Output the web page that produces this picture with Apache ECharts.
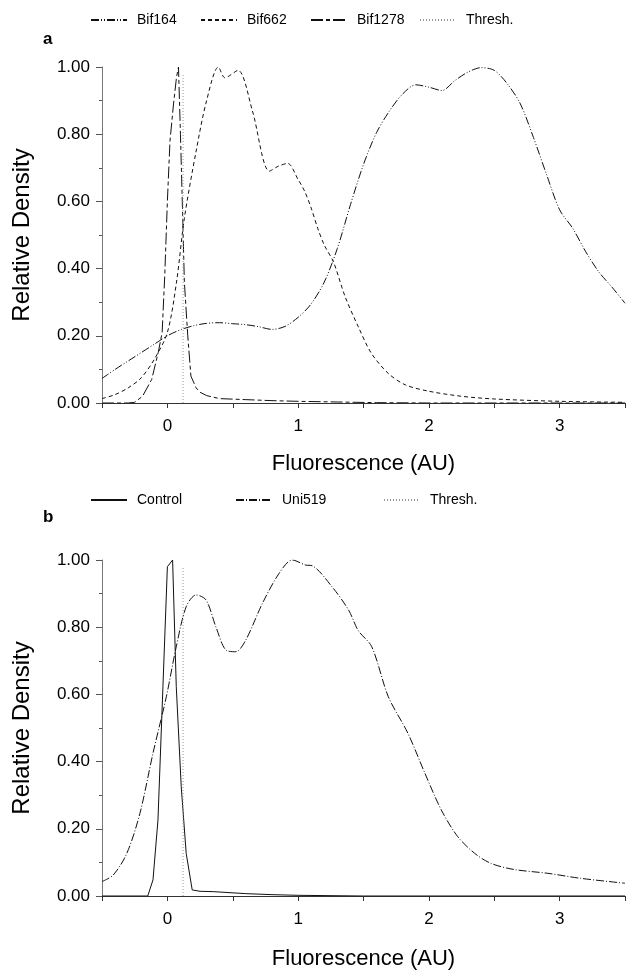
<!DOCTYPE html>
<html>
<head>
<meta charset="utf-8">
<script src="https://cdn.jsdelivr.net/npm/echarts@6/dist/echarts.min.js"></script>
<style>
  html, body { margin: 0; padding: 0; background: #fff; }
  #chart { width: 628px; height: 974px; }
</style>
</head>
<body>
<div id="chart"></div>
<script>
// panel a: Bif probes
var bif164X = [-0.5, -0.4, -0.3, -0.2, -0.1, 0, 0.1, 0.2, 0.3, 0.4, 0.5, 0.6, 0.7, 0.8, 0.9, 1.0, 1.1, 1.2, 1.3, 1.4, 1.5,
    1.6, 1.7, 1.8, 1.9, 2.0, 2.1, 2.2, 2.3, 2.4, 2.5, 2.6, 2.7, 2.8, 2.9, 3.0, 3.1, 3.2, 3.3, 3.4, 3.5];
var bif164Y = [0.073, 0.10, 0.125, 0.15, 0.175, 0.20, 0.218, 0.23, 0.237, 0.239, 0.236, 0.233, 0.227, 0.219, 0.228, 0.255, 0.295,
    0.36, 0.46, 0.59, 0.71, 0.805, 0.87, 0.92, 0.947, 0.94, 0.93, 0.96, 0.985, 0.998, 0.99, 0.95, 0.89, 0.79, 0.68, 0.575,
    0.52, 0.45, 0.39, 0.345, 0.297];

var bif662X = [-0.5, -0.4, -0.3, -0.2, -0.1, 0, 0.07, 0.13, 0.22, 0.3, 0.39, 0.44, 0.54, 0.65, 0.78, 0.85, 0.92, 1.0, 1.05,
    1.1, 1.15, 1.2, 1.27, 1.36, 1.46, 1.56, 1.69, 1.82, 2.0, 2.25, 2.5, 3.0, 3.5];
var bif662Y = [0.013, 0.025, 0.045, 0.075, 0.13, 0.21, 0.36, 0.55, 0.75, 0.90, 1.0, 0.968, 0.99, 0.87, 0.69, 0.705, 0.713,
    0.665, 0.63, 0.58, 0.52, 0.47, 0.42, 0.316, 0.227, 0.148, 0.088, 0.054, 0.035, 0.02, 0.012, 0.005, 0.002];

var bif1278X = [-0.5, -0.3, -0.25, -0.19, -0.12, -0.07, -0.04, -0.02, 0.0, 0.02, 0.047, 0.07, 0.085, 0.1, 0.114, 0.13, 0.156,
    0.18, 0.22, 0.25, 0.3, 0.4, 0.6, 0.8, 1.0, 1.3, 1.6, 2.0, 3.5];
var bif1278Y = [0, 0, 0.002, 0.02, 0.07, 0.15, 0.21, 0.38, 0.6, 0.78, 0.89, 0.97, 1.0, 0.8, 0.6, 0.36, 0.2,
    0.08, 0.045, 0.032, 0.022, 0.013, 0.01, 0.007, 0.005, 0.003, 0.001, 0, 0];

// panel b: control and Uni519
var controlX = [-0.5, -0.15, -0.11, -0.072, -0.034, 0.0, 0.04, 0.068, 0.106, 0.144, 0.19, 0.25, 0.35, 0.6, 0.8, 1.0, 1.5, 3.5];
var controlY = [0, 0, 0.048, 0.226, 0.623, 0.98, 1.0, 0.623, 0.325, 0.127, 0.018, 0.014, 0.013, 0.007, 0.004, 0.002, 0, 0];

var uni519X = [-0.5, -0.414, -0.31, -0.21, -0.11, -0.008, 0.068, 0.144, 0.22, 0.296, 0.372, 0.448, 0.524, 0.6, 0.727, 0.854,
    0.955, 1.057, 1.107, 1.26, 1.386, 1.46, 1.563, 1.69, 1.84, 1.97, 2.095, 2.22, 2.35, 2.475, 2.65, 2.91, 3.16, 3.5];
var uni519Y = [0.043, 0.0625, 0.127, 0.246, 0.425, 0.593, 0.742, 0.861, 0.896, 0.881, 0.80, 0.732, 0.727, 0.762, 0.871, 0.96,
    1.0, 0.985, 0.983, 0.92, 0.851, 0.79, 0.742, 0.593, 0.484, 0.365, 0.256, 0.177, 0.127, 0.097, 0.079, 0.0675, 0.0526, 0.038];

// threshold lines
var threshX = [0.12, 0.12];
var threshY = [0, 0.98];

var xTicks = ['0', '1', '2', '3'];
var yTicks = ['0.00', '0.20', '0.40', '0.60', '0.80', '1.00'];

var FONT = '"Liberation Sans", Arial, sans-serif';

function pairs(aX, aY) {
    var aoOut = [];
    for (var i = 0; i < aX.length; i++) {
        aoOut.push([aX[i], aY[i]]);
    }
    return aoOut;
}

function xAxisCfg(nGrid, nGap) {
    return {
        type: 'value',
        gridIndex: nGrid,
        min: -0.5,
        max: 3.5,
        interval: 0.5,
        name: 'Fluorescence (AU)',
        nameLocation: 'middle',
        nameGap: nGap,
        nameTextStyle: { fontFamily: FONT, fontSize: 22, color: '#000' },
        axisLine: { onZero: false, lineStyle: { color: '#333', width: 1 } },
        axisTick: { length: 5, lineStyle: { color: '#333' } },
        axisLabel: {
            fontFamily: FONT, fontSize: 17, color: '#000', margin: 15,
            formatter: function (v) {
                var c = String(Math.round(v));
                return (Math.abs(v - Math.round(v)) < 1e-6 && xTicks.indexOf(c) >= 0) ? c : '';
            }
        },
        splitLine: { show: false }
    };
}

function yAxisCfg(nGrid) {
    return {
        type: 'value',
        gridIndex: nGrid,
        min: 0,
        max: 1,
        interval: 0.2,
        name: 'Relative Density',
        nameLocation: 'middle',
        nameGap: 68,
        nameTextStyle: { fontFamily: FONT, fontSize: 24, color: '#000' },
        axisLine: { show: true, onZero: false, lineStyle: { color: '#777', width: 1 } },
        axisTick: { show: true, length: 6, lineStyle: { color: '#555' } },
        minorTick: { show: true, splitNumber: 2, length: 3, lineStyle: { color: '#555' } },
        axisLabel: {
            fontFamily: FONT, fontSize: 17, color: '#000', margin: 12,
            formatter: function (v) { return yTicks[Math.round(v * 5)]; }
        },
        splitLine: { show: false }
    };
}

function lineSer(cName, nAxis, aData, oDash, cColor, bSmooth) {
    return {
        name: cName,
        type: 'line',
        xAxisIndex: nAxis,
        yAxisIndex: nAxis,
        data: aData,
        showSymbol: false,
        symbol: 'none',
        smooth: bSmooth ? 0.3 : false,
        silent: true,
        lineStyle: { color: cColor || '#111', width: 1, type: oDash },
        itemStyle: { color: cColor || '#111' }
    };
}

// one legend per entry so each can sit where the reference puts it
function legendCfg(cName, nLeft, nTop) {
    return {
        data: [cName],
        left: nLeft,
        top: nTop,
        itemWidth: 36,
        itemHeight: 10,
        selectedMode: false,
        itemStyle: { opacity: 0 },
        textStyle: { fontFamily: FONT, fontSize: 14, color: '#000', padding: [0, 0, 0, 5] }
    };
}

var chart = echarts.init(document.getElementById('chart'));

chart.setOption({
    backgroundColor: '#fff',
    animation: false,
    title: [
        { text: 'a', left: 38, top: 26, textStyle: { fontFamily: FONT, fontSize: 17, fontWeight: 'bold', color: '#000' } },
        { text: 'b', left: 38, top: 504, textStyle: { fontFamily: FONT, fontSize: 17, fontWeight: 'bold', color: '#000' } }
    ],
    legend: [
        legendCfg('Bif164', 85, 8),
        legendCfg('Bif662', 195, 8),
        legendCfg('Bif1278', 305, 8),
        legendCfg('Thresh.', 414, 8),
        legendCfg('Control', 85, 488),
        legendCfg('Uni519', 230, 488),
        legendCfg('Thresh.', 378, 488)
    ],
    grid: [
        { left: 102, top: 67, width: 526, height: 336 },
        { left: 102, top: 560, width: 526, height: 336 }
    ],
    xAxis: [xAxisCfg(0, 50), xAxisCfg(1, 52)],
    yAxis: [yAxisCfg(0), yAxisCfg(1)],
    series: [
        lineSer('Bif164', 0, pairs(bif164X, bif164Y), [8, 2, 1, 2, 1, 2], null, true),
        lineSer('Bif662', 0, pairs(bif662X, bif662Y), [4, 3], null, true),
        lineSer('Bif1278', 0, pairs(bif1278X, bif1278Y), [12, 3, 4, 3], null, false),
        lineSer('Thresh.', 0, pairs(threshX, threshY), [1, 2], '#999', false),
        lineSer('Control', 1, pairs(controlX, controlY), 'solid', null, false),
        lineSer('Uni519', 1, pairs(uni519X, uni519Y), [8, 2, 1, 2], null, true),
        lineSer('Thresh.', 1, pairs(threshX, threshY), [1, 2], '#999', false)
    ]
});
</script>
</body>
</html>
